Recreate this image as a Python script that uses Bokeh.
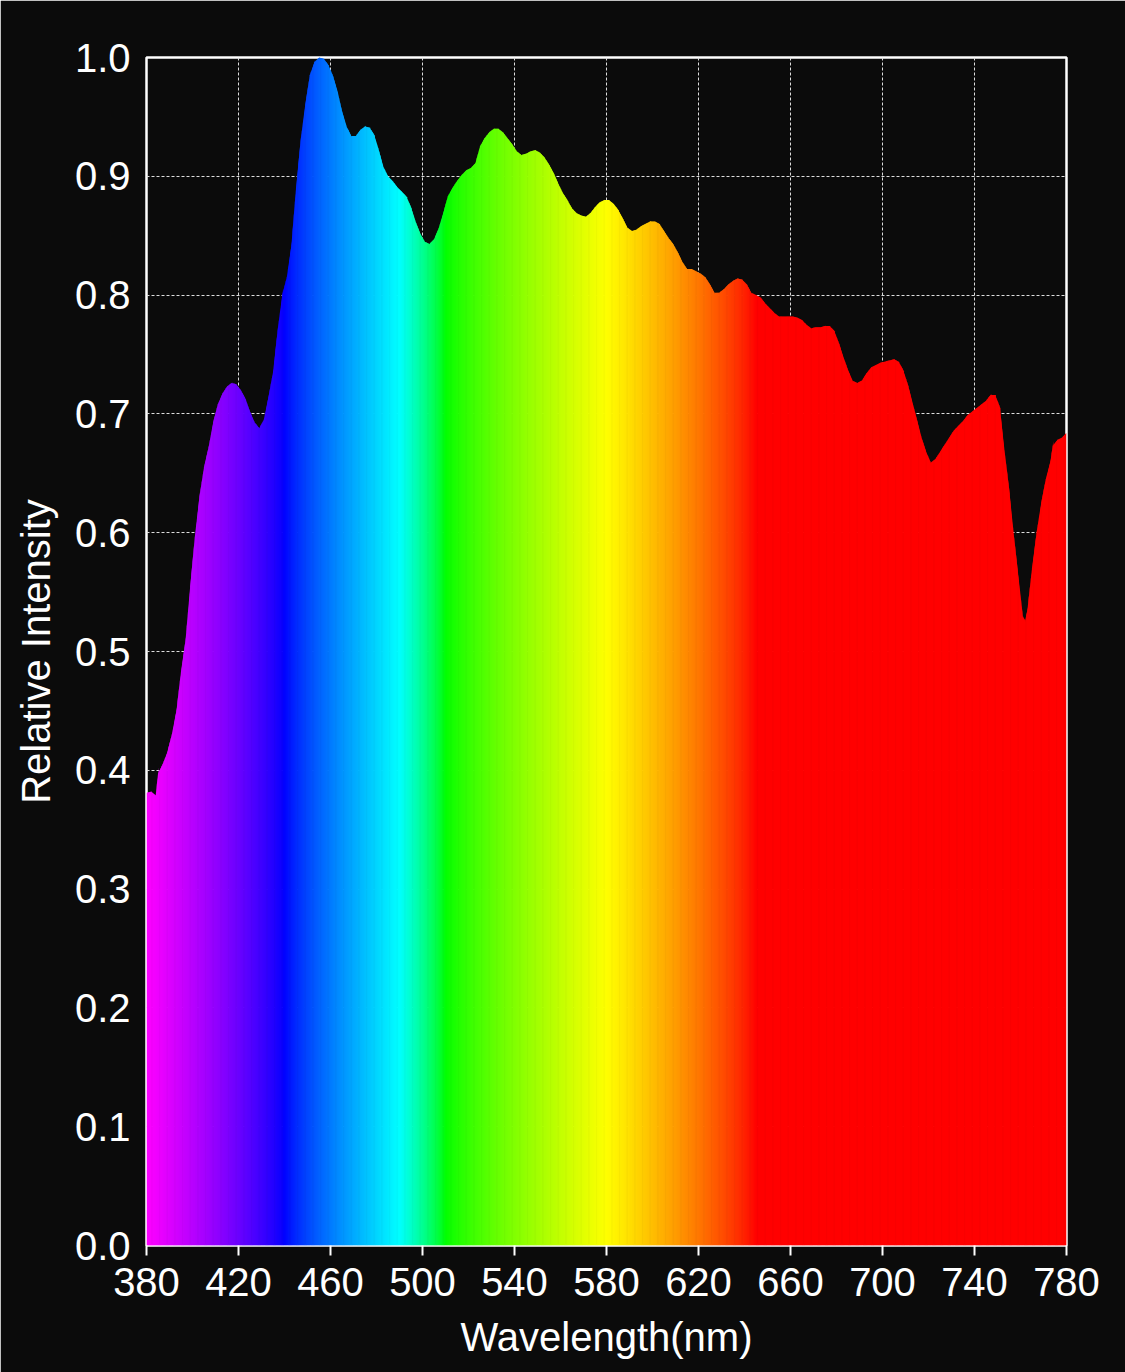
import numpy as np
from bokeh.plotting import figure
from bokeh.models import FixedTicker, Range1d, NumeralTickFormatter
from bokeh.embed import file_html
from bokeh.resources import INLINE

# ---- data ----
WAVELENGTH = [380, 382, 384, 385, 387, 389, 391, 393, 395, 397, 399, 401, 403, 405, 407, 409,
              411, 413, 415, 417, 419, 421, 423, 425, 427, 429, 431, 433, 435, 437, 439, 441,
              443, 445, 447, 449, 451, 453, 455, 457, 459, 461, 463, 465, 467, 469, 471, 473,
              475, 477, 479, 481, 483, 485, 487, 489, 491, 493, 495, 497, 499, 501, 503, 505,
              507, 509, 511, 513, 515, 517, 519, 521, 523, 525, 527, 529, 531, 533, 535, 537,
              539, 541, 543, 545, 547, 549, 551, 553, 555, 557, 559, 561, 563, 565, 567, 569,
              571, 573, 575, 577, 579, 581, 583, 585, 587, 589, 591, 593, 595, 597, 599, 601,
              603, 605, 607, 609, 611, 613, 615, 617, 619, 621, 623, 625, 627, 629, 631, 633,
              635, 637, 639, 641, 643, 645, 647, 649, 651, 653, 655, 657, 659, 661, 663, 665,
              667, 669, 671, 673, 675, 677, 679, 681, 683, 685, 687, 689, 691, 693, 695, 697,
              699, 701, 703, 705, 707, 709, 711, 713, 715, 717, 719, 721, 723, 725, 727, 729,
              731, 733, 735, 737, 739, 741, 743, 745, 747, 749, 751, 753, 755, 757, 759, 761,
              762, 763, 765, 767, 769, 771, 773, 774, 776, 778, 780]
INTENSITY = [0.381, 0.382, 0.379, 0.397, 0.405, 0.415, 0.430, 0.450, 0.483, 0.510, 0.555, 0.596,
             0.630, 0.655, 0.672, 0.693, 0.708, 0.717, 0.723, 0.726, 0.725, 0.720, 0.713, 0.702,
             0.693, 0.688, 0.695, 0.714, 0.735, 0.770, 0.800, 0.815, 0.842, 0.890, 0.930, 0.960,
             0.985, 0.996, 1.000, 0.999, 0.994, 0.985, 0.972, 0.955, 0.942, 0.934, 0.934, 0.939,
             0.942, 0.941, 0.935, 0.922, 0.908, 0.900, 0.896, 0.891, 0.887, 0.883, 0.874, 0.862,
             0.852, 0.845, 0.843, 0.847, 0.856, 0.869, 0.883, 0.890, 0.896, 0.901, 0.905, 0.907,
             0.911, 0.925, 0.932, 0.937, 0.940, 0.940, 0.937, 0.932, 0.927, 0.921, 0.918, 0.919,
             0.921, 0.922, 0.920, 0.916, 0.910, 0.903, 0.894, 0.886, 0.880, 0.873, 0.869, 0.867,
             0.866, 0.869, 0.874, 0.878, 0.880, 0.880, 0.877, 0.872, 0.865, 0.857, 0.854, 0.855,
             0.858, 0.860, 0.862, 0.862, 0.860, 0.854, 0.848, 0.843, 0.836, 0.828, 0.822, 0.822,
             0.820, 0.818, 0.815, 0.809, 0.802, 0.802, 0.805, 0.809, 0.812, 0.814, 0.813, 0.809,
             0.802, 0.800, 0.798, 0.793, 0.789, 0.785, 0.782, 0.782, 0.782, 0.782, 0.781, 0.779,
             0.775, 0.772, 0.773, 0.773, 0.774, 0.774, 0.770, 0.760, 0.748, 0.737, 0.728, 0.726,
             0.728, 0.734, 0.739, 0.741, 0.743, 0.744, 0.745, 0.746, 0.744, 0.737, 0.725, 0.710,
             0.695, 0.680, 0.668, 0.659, 0.662, 0.668, 0.674, 0.680, 0.686, 0.690, 0.694, 0.699,
             0.702, 0.705, 0.708, 0.711, 0.716, 0.716, 0.706, 0.670, 0.638, 0.600, 0.565, 0.530,
             0.526, 0.535, 0.570, 0.600, 0.625, 0.645, 0.660, 0.673, 0.678, 0.680, 0.684]

X_TICKS = [380, 420, 460, 500, 540, 580, 620, 660, 700, 740, 780]
Y_TICKS = [0.0, 0.1, 0.2, 0.3, 0.4, 0.5, 0.6, 0.7, 0.8, 0.9, 1.0]

# ---- styles ----
BG = "#0b0b0b"
FONT = "Liberation Sans"


def spectrum_color(w):
    if w < 440:
        r, g, b = (440 - w) / 60.0, 0.0, 1.0
    elif w < 490:
        r, g, b = 0.0, (w - 440) / 50.0, 1.0
    elif w < 510:
        r, g, b = 0.0, 1.0, (510 - w) / 20.0
    elif w < 580:
        r, g, b = (w - 510) / 70.0, 1.0, 0.0
    elif w < 645:
        r, g, b = 1.0, (645 - w) / 65.0, 0.0
    else:
        r, g, b = 1.0, 0.0, 0.0
    f = lambda c: int(round(255 * (max(0.0, min(1.0, c)) ** 0.8)))
    return "#%02x%02x%02x" % (f(r), f(g), f(b))


p = figure(frame_width=920, frame_height=1188,
           x_range=Range1d(380, 780), y_range=Range1d(0, 1.0),
           output_backend="svg", toolbar_location=None,
           background_fill_color=BG, border_fill_color=BG,
           min_border_left=146, min_border_top=57, min_border_right=59, min_border_bottom=127)

# area under the curve, split into thin overlapping slices coloured by wavelength
wl = np.array(WAVELENGTH, dtype=float)
iv = np.array(INTENSITY, dtype=float)
xs, ys, cols = [], [], []
for i in range(len(wl) - 1):
    x0, x1, y0, y1 = wl[i], wl[i + 1], iv[i], iv[i + 1]
    n = max(1, int(np.ceil((x1 - x0) / 0.5)))
    last = (i == len(wl) - 2)
    for k in range(n):
        ta = k / n
        tb = (k + 1) / n if (last and k == n - 1) else (k + 1.6) / n
        a, b = x0 + (x1 - x0) * ta, x0 + (x1 - x0) * tb
        ya, yb = y0 + (y1 - y0) * ta, y0 + (y1 - y0) * tb
        xs.append([a, b, b, a])
        ys.append([0, 0, yb, ya])
        cols.append(spectrum_color(x0 + (x1 - x0) * (k + 0.5) / n))

p.patches(xs=xs, ys=ys, fill_color=cols, line_color=None)

# grid
for g in (p.xgrid, p.ygrid):
    g.grid_line_color = "#dddddd"
    g.grid_line_dash = "3 2"
    g.grid_line_width = 1
p.xgrid.ticker = FixedTicker(ticks=X_TICKS)
p.ygrid.ticker = FixedTicker(ticks=Y_TICKS)

p.outline_line_color = "white"
p.outline_line_width = 2.5

# axes
p.xaxis.ticker = FixedTicker(ticks=X_TICKS)
p.yaxis.ticker = FixedTicker(ticks=Y_TICKS)
p.yaxis.formatter = NumeralTickFormatter(format="0.0")
p.xaxis.axis_label = "Wavelength(nm)"
p.yaxis.axis_label = "Relative Intensity"
for ax in (p.xaxis[0], p.yaxis[0]):
    ax.axis_line_color = None
    ax.major_tick_line_color = "white"
    ax.major_tick_line_width = 2
    ax.minor_tick_line_color = None
    ax.major_label_text_color = "white"
    ax.major_label_text_font = FONT
    ax.major_label_text_font_size = "40px"
    ax.axis_label_text_color = "white"
    ax.axis_label_text_font = FONT
    ax.axis_label_text_font_size = "40px"
    ax.axis_label_text_font_style = "normal"

p.xaxis.major_tick_in = 0
p.xaxis.major_tick_out = 10
p.xaxis.major_label_standoff = 12
p.xaxis.axis_label_standoff = 16
p.yaxis.major_tick_in = 0
p.yaxis.major_tick_out = 0
p.yaxis.major_label_standoff = 16
p.yaxis.axis_label_standoff = 14

html = file_html(p, INLINE)
html = html.replace("<body>", '<body style="background-color:#0b0b0b;">', 1)
open("out.html", "w").write(html)
